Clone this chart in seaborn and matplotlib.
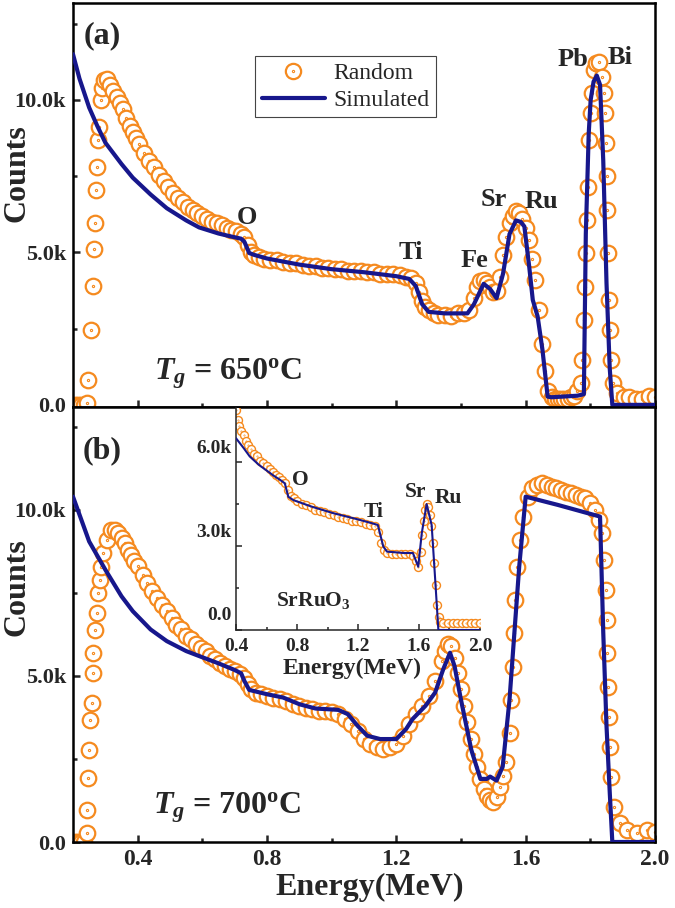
import numpy as np
import pandas as pd
import matplotlib
matplotlib.use("Agg")
import matplotlib.pyplot as plt
import seaborn as sns
from matplotlib.path import Path
from matplotlib.lines import Line2D
from matplotlib.ticker import FuncFormatter
from matplotlib.transforms import ScaledTranslation

sns.set_style("ticks")
plt.rcParams["font.family"] = ["Liberation Serif", "DejaVu Serif"]
plt.rcParams["font.weight"] = "bold"
plt.rcParams["axes.labelweight"] = "bold"
plt.rcParams["mathtext.fontset"] = "custom"
plt.rcParams["mathtext.rm"] = "Liberation Serif:bold"
plt.rcParams["mathtext.bf"] = "Liberation Serif:bold"
plt.rcParams["mathtext.it"] = "Liberation Serif:italic:bold"

ORANGE = "#F58A1F"
NAVY = "#17178C"

# ---- panel (a): Tg = 650 C  (energy in MeV, counts in thousands) ----
e_rand_a = [0.205, 0.215, 0.225, 0.235, 0.244, 0.246, 0.255, 0.262, 0.266, 0.268,
            0.272, 0.275, 0.277, 0.281, 0.286, 0.290, 0.296, 0.306, 0.315, 0.325,
            0.335, 0.345, 0.355, 0.365, 0.375, 0.385, 0.395, 0.405, 0.42, 0.435,
            0.45, 0.465, 0.48, 0.495, 0.51, 0.525, 0.54, 0.555, 0.57, 0.585,
            0.60, 0.615, 0.63, 0.645, 0.66, 0.675, 0.69, 0.705, 0.72, 0.73,
            0.74, 0.75, 0.76, 0.775, 0.79, 0.81, 0.83, 0.85, 0.87, 0.89,
            0.91, 0.93, 0.95, 0.97, 0.99, 1.01, 1.03, 1.05, 1.07, 1.09,
            1.11, 1.13, 1.15, 1.17, 1.19, 1.21, 1.23, 1.245, 1.26, 1.27,
            1.28, 1.29, 1.30, 1.315, 1.33, 1.35, 1.37, 1.39, 1.41, 1.425,
            1.44, 1.45, 1.46, 1.47, 1.48, 1.49, 1.50, 1.51, 1.52, 1.53,
            1.54, 1.55, 1.56, 1.57, 1.58, 1.59, 1.60, 1.61, 1.62, 1.63,
            1.64, 1.65, 1.66, 1.67, 1.68, 1.69, 1.70, 1.71, 1.72, 1.73,
            1.74, 1.75, 1.76, 1.770, 1.775, 1.781, 1.783, 1.786, 1.789, 1.793,
            1.796, 1.801, 1.806, 1.811, 1.819, 1.827, 1.837, 1.842, 1.844, 1.847,
            1.850, 1.852, 1.854, 1.858, 1.861, 1.865, 1.871, 1.883, 1.904, 1.92,
            1.94, 1.96, 1.98, 2.0]
c_rand_a = [0.0, 0.0, 0.0, 0.0, 0.07, 0.8, 2.46, 3.9, 5.1, 5.96,
            7.05, 7.8, 8.7, 9.1, 10.0, 10.4, 10.65, 10.7, 10.5, 10.3,
            10.1, 9.9, 9.7, 9.4, 9.15, 8.95, 8.75, 8.55, 8.25, 8.0,
            7.8, 7.55, 7.35, 7.15, 6.95, 6.8, 6.65, 6.5, 6.4, 6.3,
            6.2, 6.1, 6.0, 5.95, 5.9, 5.8, 5.75, 5.7, 5.6, 5.5,
            5.25, 5.0, 4.9, 4.85, 4.8, 4.75, 4.75, 4.7, 4.65, 4.65,
            4.6, 4.55, 4.55, 4.5, 4.5, 4.45, 4.45, 4.4, 4.4, 4.4,
            4.35, 4.35, 4.3, 4.3, 4.3, 4.25, 4.2, 4.15, 4.0, 3.7,
            3.4, 3.2, 3.1, 3.0, 2.95, 2.95, 2.9, 3.0, 3.0, 3.1,
            3.5, 3.85, 4.05, 4.1, 4.0, 3.85, 3.7, 3.75, 4.2, 4.9,
            5.5, 5.95, 6.2, 6.35, 6.3, 6.1, 5.8, 5.4, 4.8, 4.1,
            3.1, 2.0, 1.1, 0.45, 0.25, 0.2, 0.2, 0.2, 0.2, 0.2,
            0.25, 0.3, 0.45, 0.71, 1.48, 2.79, 3.88, 4.97, 6.07, 7.16,
            8.69, 9.56, 10.22, 10.98, 11.2, 11.26, 10.76, 10.22, 9.56, 8.58,
            7.49, 6.39, 4.97, 3.44, 2.46, 1.48, 0.71, 0.38, 0.27, 0.25,
            0.2, 0.2, 0.3, 0.25]
e_sim_a = [0.20, 0.22, 0.25, 0.275, 0.30, 0.35, 0.385, 0.44, 0.49, 0.55,
           0.59, 0.65, 0.69, 0.72, 0.73, 0.745, 0.76, 0.80, 0.90, 1.00,
           1.10, 1.20, 1.24, 1.26, 1.28, 1.30, 1.35, 1.42, 1.44, 1.47,
           1.49, 1.51, 1.53, 1.55, 1.57, 1.585, 1.596, 1.611, 1.622, 1.637,
           1.652, 1.668, 1.68, 1.76, 1.78, 1.786, 1.795, 1.801, 1.81, 1.82,
           1.83, 1.84, 1.85, 1.86, 1.868, 2.0]
c_sim_a = [11.5, 10.7, 9.75, 9.15, 8.6, 7.9, 7.45, 6.9, 6.45, 6.05,
           5.82, 5.62, 5.52, 5.45, 5.35, 4.98, 4.92, 4.8, 4.6, 4.45,
           4.35, 4.22, 4.13, 3.9, 3.3, 3.05, 3.0, 3.0, 3.3, 3.97,
           3.8, 3.5, 4.3, 5.6, 6.05, 6.0, 5.85, 4.53, 3.44, 2.9,
           1.8, 0.27, 0.25, 0.3, 0.35, 5.6, 8.9, 10.0, 10.6, 10.8,
           10.5, 8.0, 4.0, 1.2, 0.0, 0.0]

# ---- panel (b): Tg = 700 C ----
e_rand_b = [0.205, 0.215, 0.225, 0.235, 0.244, 0.244, 0.247, 0.250, 0.252, 0.258,
            0.261, 0.263, 0.268, 0.273, 0.278, 0.283, 0.288, 0.293, 0.304, 0.319,
            0.33, 0.34, 0.35, 0.36, 0.37, 0.38, 0.39, 0.40, 0.415, 0.43,
            0.445, 0.46, 0.475, 0.49, 0.505, 0.52, 0.535, 0.55, 0.565, 0.58,
            0.595, 0.61, 0.625, 0.64, 0.655, 0.67, 0.685, 0.70, 0.715, 0.73,
            0.74, 0.75, 0.765, 0.78, 0.80, 0.82, 0.84, 0.86, 0.88, 0.90,
            0.92, 0.94, 0.96, 0.98, 1.00, 1.02, 1.04, 1.06, 1.08, 1.10,
            1.12, 1.14, 1.16, 1.18, 1.20, 1.22, 1.24, 1.26, 1.28, 1.30,
            1.32, 1.34, 1.35, 1.36, 1.37, 1.38, 1.39, 1.40, 1.41, 1.42,
            1.43, 1.44, 1.45, 1.46, 1.47, 1.48, 1.49, 1.50, 1.51, 1.52,
            1.53, 1.54, 1.550, 1.555, 1.560, 1.563, 1.567, 1.573, 1.581, 1.591,
            1.606, 1.62, 1.635, 1.65, 1.665, 1.68, 1.695, 1.71, 1.725, 1.74,
            1.755, 1.77, 1.785, 1.80, 1.815, 1.827, 1.837, 1.842, 1.847, 1.850,
            1.852, 1.854, 1.858, 1.861, 1.865, 1.873, 1.893, 1.914, 1.945, 1.975,
            2.0]
c_rand_b = [0.0, 0.0, 0.0, 0.0, 0.26, 0.96, 1.92, 2.77, 3.67, 4.18,
            5.08, 5.68, 6.39, 6.89, 7.49, 7.89, 8.29, 8.7, 9.1, 9.4,
            9.4, 9.3, 9.15, 9.0, 8.8, 8.65, 8.45, 8.3, 8.05, 7.8,
            7.55, 7.35, 7.15, 6.95, 6.75, 6.55, 6.4, 6.2, 6.1, 5.95,
            5.85, 5.75, 5.6, 5.5, 5.4, 5.3, 5.2, 5.15, 5.05, 4.95,
            4.75, 4.6, 4.5, 4.45, 4.4, 4.35, 4.3, 4.25, 4.15, 4.1,
            4.05, 4.0, 3.95, 3.95, 3.9, 3.85, 3.7, 3.55, 3.35, 3.1,
            2.95, 2.85, 2.8, 2.85, 2.95, 3.2, 3.55, 3.85, 4.1, 4.4,
            4.85, 5.45, 5.75, 5.95, 5.9, 5.55, 5.1, 4.6, 4.1, 3.6,
            3.1, 2.65, 2.25, 1.9, 1.6, 1.4, 1.25, 1.2, 1.35, 1.65,
            2.0, 2.4, 3.27, 4.28, 5.28, 6.29, 7.29, 8.29, 9.1, 9.8,
            10.4, 10.65, 10.75, 10.8, 10.75, 10.7, 10.65, 10.6, 10.55, 10.5,
            10.45, 10.4, 10.35, 10.2, 10.0, 9.7, 9.3, 8.49, 7.59, 6.69,
            5.68, 4.68, 3.77, 2.87, 1.97, 1.06, 0.56, 0.36, 0.26, 0.36,
            0.3]
e_sim_b = [0.20, 0.25, 0.30, 0.35, 0.385, 0.44, 0.49, 0.55, 0.59, 0.65,
           0.70, 0.72, 0.73, 0.745, 0.80, 0.85, 0.90, 0.95, 1.02, 1.05,
           1.08, 1.11, 1.15, 1.20, 1.23, 1.25, 1.29, 1.32, 1.345, 1.366,
           1.38, 1.40, 1.432, 1.46, 1.48, 1.49, 1.51, 1.529, 1.55, 1.58,
           1.60, 1.70, 1.83, 1.84, 1.85, 1.86, 1.868, 2.0]
c_sim_b = [10.4, 9.05, 8.2, 7.4, 6.95, 6.4, 6.05, 5.75, 5.6, 5.38,
           5.18, 5.08, 4.85, 4.58, 4.45, 4.35, 4.15, 4.02, 3.98, 3.85,
           3.5, 3.2, 3.1, 3.1, 3.4, 3.7, 4.1, 4.5, 5.2, 5.7,
           5.3, 4.28, 2.77, 1.9, 1.9, 1.97, 1.85, 2.27, 4.28, 8.29,
           10.4, 10.15, 9.8, 6.3, 3.5, 1.5, 0.0, 0.0]

# ---- inset: SrRuO3 reference film ----
e_rand_in = [0.40, 0.41, 0.42, 0.435, 0.45, 0.465, 0.48, 0.50, 0.52, 0.54,
             0.56, 0.58, 0.60, 0.62, 0.64, 0.66, 0.68, 0.70, 0.72, 0.74,
             0.76, 0.78, 0.80, 0.83, 0.86, 0.89, 0.92, 0.95, 0.98, 1.01,
             1.04, 1.07, 1.10, 1.13, 1.16, 1.19, 1.22, 1.25, 1.28, 1.31,
             1.33, 1.35, 1.37, 1.39, 1.42, 1.45, 1.48, 1.51, 1.54, 1.56,
             1.58, 1.595, 1.61, 1.62, 1.63, 1.64, 1.65, 1.66, 1.67, 1.68,
             1.69, 1.70, 1.71, 1.72, 1.73, 1.74, 1.76, 1.79, 1.82, 1.85,
             1.88, 1.91, 1.94, 1.97, 2.00]
c_rand_in = [7.85, 7.5, 7.3, 7.1, 6.95, 6.75, 6.6, 6.45, 6.3, 6.2,
             6.05, 5.95, 5.85, 5.75, 5.65, 5.55, 5.45, 5.35, 5.25, 5.0,
             4.8, 4.7, 4.6, 4.5, 4.45, 4.4, 4.3, 4.25, 4.2, 4.15,
             4.1, 4.05, 4.0, 3.95, 3.9, 3.9, 3.85, 3.8, 3.75, 3.7,
             3.5, 3.1, 2.85, 2.75, 2.7, 2.7, 2.7, 2.7, 2.7, 2.65,
             2.45, 2.25, 2.8, 3.4, 3.9, 4.3, 4.5, 4.4, 4.1, 3.7,
             3.1, 2.4, 1.6, 0.9, 0.45, 0.3, 0.25, 0.25, 0.25, 0.25,
             0.25, 0.25, 0.25, 0.25, 0.25]
e_sim_in = [0.40, 0.45, 0.49, 0.55, 0.60, 0.65, 0.69, 0.72, 0.743, 0.776,
            0.90, 1.04, 1.20, 1.30, 1.33, 1.366, 1.39, 1.50, 1.56, 1.595,
            1.618, 1.65, 1.683, 1.705, 1.727, 2.0]
c_sim_in = [6.85, 6.5, 6.2, 5.9, 5.7, 5.5, 5.36, 5.24, 4.76, 4.64,
            4.4, 4.17, 3.95, 3.8, 3.75, 2.98, 2.8, 2.75, 2.75, 2.26,
            3.45, 4.5, 3.75, 1.9, 0.0, 0.0]

# circle with a dot in the middle
dot_circle = Path.make_compound_path(Path.unit_circle(), Path.circle((0, 0), 0.07))


def kfmt(v, pos):
    return "0.0" if abs(v) < 1e-9 else f"{v:.1f}k"


def draw(ax, e_r, c_r, e_s, c_s, size, mew, lw):
    df_r = pd.DataFrame({"E": e_r, "C": c_r})
    df_s = pd.DataFrame({"E": e_s, "C": c_s})
    sns.scatterplot(data=df_r, x="E", y="C", ax=ax, marker=dot_circle, s=size,
                    facecolor="white", edgecolor=ORANGE, linewidth=mew, zorder=2)
    sns.lineplot(data=df_s, x="E", y="C", ax=ax, color=NAVY, linewidth=lw,
                 estimator=None, sort=False, zorder=3)
    ax.set_xlabel("")
    ax.set_ylabel("")


fig = plt.figure(figsize=(6.75, 9.08), dpi=100)
W, H = 675.0, 908.0
ax_a = fig.add_axes([73 / W, 1 - 407 / H, 582 / W, 404 / H])
ax_b = fig.add_axes([73 / W, 1 - 842 / H, 582 / W, 435 / H])
ax_in = fig.add_axes([236 / W, 1 - 630 / H, 244 / W, 222 / H])

draw(ax_a, e_rand_a, c_rand_a, e_sim_a, c_sim_a, 125, 1.6, 3.0)
draw(ax_b, e_rand_b, c_rand_b, e_sim_b, c_sim_b, 125, 1.6, 3.0)
draw(ax_in, e_rand_in, c_rand_in, e_sim_in, c_sim_in, 33, 1.0, 1.5)

for ax in (ax_a, ax_b):
    ax.set_xlim(0.2, 2.0)
    ax.set_xticks([0.4, 0.8, 1.2, 1.6, 2.0])
    ax.set_xticks([0.6, 1.0, 1.4, 1.8], minor=True)
    ax.set_yticks([0, 5, 10])
    ax.set_yticks([2.5, 7.5, 12.5], minor=True)
    ax.yaxis.set_major_formatter(FuncFormatter(kfmt))
    for sp in ax.spines.values():
        sp.set_linewidth(1.8)
        sp.set_color("black")
    ax.tick_params(which="both", direction="in", width=1.8, top=False, right=False)
    ax.tick_params(which="major", length=5)
    ax.tick_params(which="minor", length=3)
    ax.tick_params(axis="y", labelsize=16, pad=5)
    ax.tick_params(axis="x", labelsize=17, pad=5)
    ax.set_ylabel("Counts", fontsize=23, fontweight="bold")

ax_a.set_ylim(-0.07, 13.18)
ax_b.set_ylim(0, 13.1)
ax_a.tick_params(axis="x", labelbottom=False)
ax_a.yaxis.set_label_coords(-0.0705, 0.579)
ax_b.yaxis.set_label_coords(-0.0705, 0.586)
ax_b.set_xlabel("Energy(MeV)", fontsize=23, fontweight="bold")
ax_b.xaxis.set_label_coords(0.51, -0.071)

# inset
ax_in.set_xlim(0.4, 2.0)
ax_in.set_ylim(0, 7.93)
ax_in.set_facecolor("none")
ax_in.set_xticks([0.4, 0.8, 1.2, 1.6, 2.0])
ax_in.set_xticks([0.6, 1.0, 1.4, 1.8], minor=True)
ax_in.set_yticks([0, 3, 6])
ax_in.set_yticks([1.5, 4.5], minor=True)
ax_in.yaxis.set_major_formatter(FuncFormatter(kfmt))
ax_in.spines["top"].set_visible(False)
ax_in.spines["right"].set_visible(False)
for sp in ("left", "bottom"):
    ax_in.spines[sp].set_linewidth(1.1)
ax_in.tick_params(which="both", direction="in", width=1.1, labelsize=14)
ax_in.tick_params(which="major", length=4)
ax_in.tick_params(which="minor", length=2.5)
ax_in.tick_params(axis="x", pad=6)
ax_in.tick_params(axis="y", pad=3)
ax_in.set_xlabel("Energy(MeV)", fontsize=17, fontweight="bold")
ax_in.xaxis.set_label_coords(0.475, -0.125)
# tick labels in the original inset sit a bit above their ticks
for lab in ax_in.get_yticklabels():
    lab.set_transform(lab.get_transform() + ScaledTranslation(0, 0.16, fig.dpi_scale_trans))

# element labels
lab_a = [("O", 0.738, 6.16), ("Ti", 1.246, 5.0), ("Fe", 1.44, 4.75), ("Sr", 1.501, 6.72),
         ("Ru", 1.649, 6.66), ("Pb", 1.745, 11.34), ("Bi", 1.892, 11.4)]
for t, x, y in lab_a:
    ax_a.text(x, y, t, fontsize=19, fontweight="bold", ha="center", va="center")
lab_in = [("O", 0.82, 5.36), ("Ti", 1.30, 4.2), ("Sr", 1.58, 4.93), ("Ru", 1.79, 4.7)]
for t, x, y in lab_in:
    ax_in.text(x, y, t, fontsize=15.5, fontweight="bold", ha="center", va="center")
ax_in.text(0.905, 1.07, r"SrRuO$_3$", fontsize=15.5, fontweight="bold", ha="center", va="center")

ax_a.text(0.289, 12.1, "(a)", fontsize=23, fontweight="bold", ha="center", va="center")
ax_b.text(0.289, 11.78, "(b)", fontsize=23, fontweight="bold", ha="center", va="center")
ax_a.text(0.452, 0.82, r"$T_g$ = 650$^{\rm o}$C", fontsize=23, fontweight="bold",
          ha="left", va="baseline")
ax_b.text(0.446, 0.87, r"$T_g$ = 700$^{\rm o}$C", fontsize=23, fontweight="bold",
          ha="left", va="baseline")

# legend
h_rand = Line2D([], [], marker=dot_circle, markersize=11, mfc="white", mec=ORANGE,
                mew=1.6, ls="none")
h_sim = Line2D([], [], color=NAVY, lw=3)
leg = ax_a.legend([h_rand, h_sim], ["Random", "Simulated"], loc="upper left",
                  bbox_to_anchor=(255 / W, 1 - 56 / H), bbox_transform=fig.transFigure,
                  borderaxespad=0, fancybox=False, edgecolor="#444444", framealpha=1,
                  prop={"weight": "normal", "size": 17}, handlelength=2.7,
                  handletextpad=0.35, labelspacing=0.22, borderpad=0.28)
leg.get_frame().set_linewidth(0.8)

fig.savefig("out.png", dpi=100)
